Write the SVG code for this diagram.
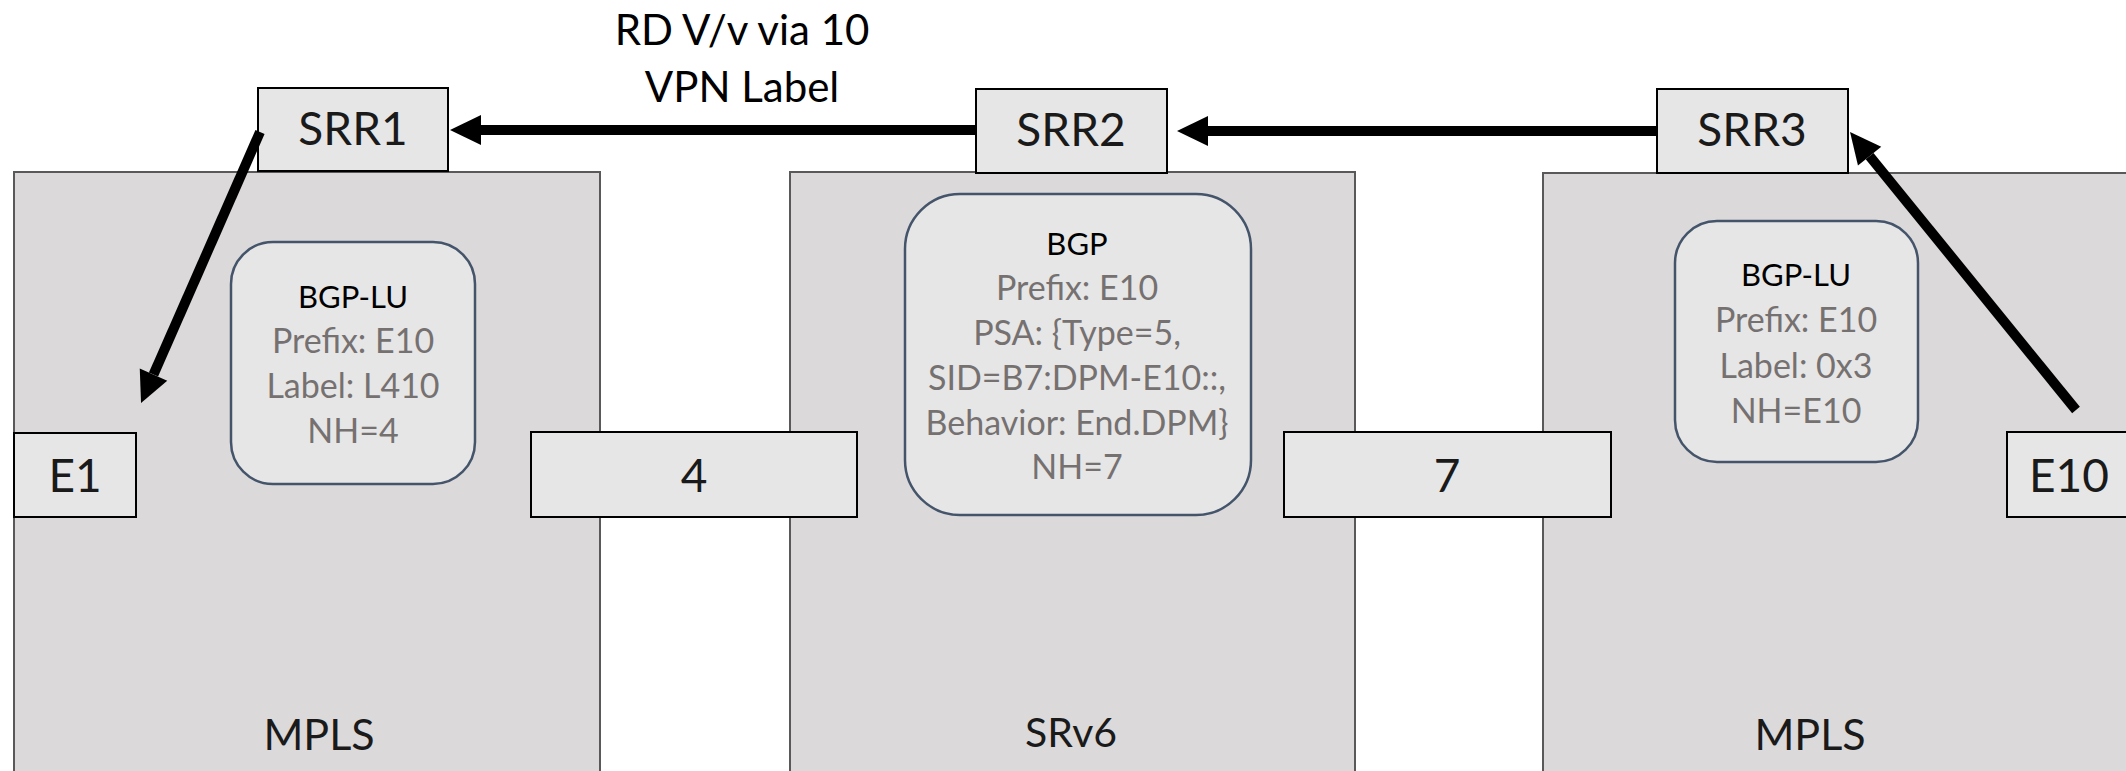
<svg xmlns="http://www.w3.org/2000/svg" width="2126" height="771" viewBox="0 0 2126 771">
<style>
.panel{fill:#DBD9DA;stroke:#595959;stroke-width:2}
.node{fill:#E7E6E6;stroke:#000;stroke-width:2}
.info{fill:#E7E6E6;stroke:#44546A;stroke-width:2.5}
text{font-family:Lato,"Open Sans","Liberation Sans",sans-serif;text-anchor:middle}
.big{font-size:46px;fill:#1a1a1a}
.zone{font-size:43px;fill:#1a1a1a}
.title{font-size:42px;fill:#000}
.head{font-size:31px;fill:#000}
.sub{font-size:34px;fill:#767171}
.conn{stroke:#000;stroke-width:10;fill:none;marker-end:url(#ah)}
</style>
<defs>
<marker id="ah" markerUnits="userSpaceOnUse" markerWidth="32" markerHeight="32" refX="0" refY="15" orient="auto" overflow="visible">
<path d="M0,0 L31,15 L0,30 z" fill="#000"/>
</marker>
</defs>
<rect width="2126" height="771" fill="#fff"/>
<g id="panel-mpls-left"><rect class="panel" x="14" y="172" width="586" height="620"/><text class="zone" x="319" y="750">MPLS</text></g>
<g id="panel-srv6"><rect class="panel" x="790" y="172" width="565" height="620"/><text class="zone" x="1071" y="747" style="font-size:41px">SRv6</text></g>
<g id="panel-mpls-right"><rect class="panel" x="1543" y="173" width="600" height="620"/><text class="zone" x="1810" y="750">MPLS</text></g>
<g id="info-left"><rect class="info" x="231" y="242" width="244" height="242" rx="42"/>
<text class="head" x="353" y="308">BGP-LU</text>
<text class="sub" x="353" y="353">Prefix: E10</text>
<text class="sub" x="353" y="398">Label: L410</text>
<text class="sub" x="353" y="443">NH=4</text></g>
<g id="info-mid"><rect class="info" x="905" y="194" width="346" height="321" rx="55"/>
<text class="head" x="1077" y="255">BGP</text>
<text class="sub" x="1077" y="300">Prefix: E10</text>
<text class="sub" x="1077" y="345">PSA: {Type=5,</text>
<text class="sub" x="1077" y="390">SID=B7:DPM-E10::,</text>
<text class="sub" x="1077" y="435">Behavior: End.DPM}</text>
<text class="sub" x="1077" y="479">NH=7</text></g>
<g id="info-right"><rect class="info" x="1675" y="221" width="243" height="241" rx="42"/>
<text class="head" x="1796" y="286">BGP-LU</text>
<text class="sub" x="1796" y="332">Prefix: E10</text>
<text class="sub" x="1796" y="378">Label: 0x3</text>
<text class="sub" x="1796" y="423">NH=E10</text></g>
<g id="SRR1"><rect class="node" x="258" y="88" width="190" height="83"/><text class="big" x="353" y="145">SRR1</text></g>
<g id="SRR2"><rect class="node" x="976" y="89" width="191" height="84"/><text class="big" x="1071" y="146">SRR2</text></g>
<g id="SRR3"><rect class="node" x="1657" y="89" width="191" height="84"/><text class="big" x="1752" y="146">SRR3</text></g>
<g id="E1"><rect class="node" x="14" y="433" width="122" height="84"/><text class="big" x="75" y="492">E1</text></g>
<g id="link4"><rect class="node" x="531" y="432" width="326" height="85"/><text class="big" x="694" y="492">4</text></g>
<g id="link7"><rect class="node" x="1284" y="432" width="327" height="85"/><text class="big" x="1447" y="492">7</text></g>
<g id="E10"><rect class="node" x="2007" y="432" width="124" height="85"/><text class="big" x="2069" y="492">E10</text></g>
<g id="label-rd"><text class="title" x="742" y="45">RD V/v via 10</text><text class="title" x="742" y="102">VPN Label</text></g>
<g id="connectors">
<path class="conn" d="M976,130 L481,130"/>
<path class="conn" d="M1657,131 L1208,131"/>
<path class="conn" d="M260,132 L153.5,374.6"/>
<path class="conn" d="M2076,410 L1869.6,156.1"/>
</g>
</svg>
